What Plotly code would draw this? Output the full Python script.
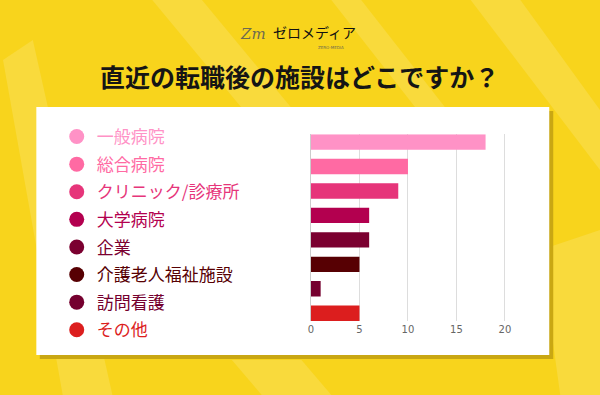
import plotly.graph_objects as go

categories = ["一般病院", "総合病院", "クリニック/診療所", "大学病院", "企業", "介護老人福祉施設", "訪問看護", "その他"]
values = [18, 10, 9, 6, 6, 5, 1, 5]
colors = ["#FF92C6", "#FF6AA3", "#E6357A", "#B3004F", "#7B0030", "#570003", "#75002F", "#DC1E1E"]
x_ticks = [0, 5, 10, 15, 20]
title_text = "直近の転職後の施設はどこですか？"

W, H = 600, 395
def px(x):
    return x / W
def py(y):
    return 1 - y / H

FONT = "Noto Sans CJK JP"
fig = go.Figure()

for i, (c, v, col) in enumerate(zip(categories, values, colors)):
    fig.add_trace(go.Bar(
        x=[v], y=[c], orientation="h", marker=dict(color=col, line=dict(width=0)),
        showlegend=False, hoverinfo="x+y", width=0.63,
    ))
for i, (c, col) in enumerate(zip(categories, colors)):
    fig.add_trace(go.Scatter(
        x=[None], y=[None], mode="markers",
        marker=dict(color=col, size=15, symbol="circle"),
        name=f"<span style='color:{col}'>{c}</span>",
        legendgroup=f"g{i}", showlegend=True,
    ))

shapes = []
streaks = [
    [(150, 0), (200, 0), (300, 120), (250, 120)],
    [(330, 0), (360, 0), (470, 140), (440, 140)],
    [(470, 0), (520, 0), (600, 110), (600, 170)],
    [(0, 60), (30, 40), (110, 395), (60, 395)],
    [(540, 250), (600, 230), (600, 395), (560, 395)],
    [(230, 360), (300, 360), (330, 395), (260, 395)],
]
for pts in streaks:
    path = "M " + " L ".join(f"{px(x)},{py(y)}" for x, y in pts) + " Z"
    shapes.append(dict(type="path", xref="paper", yref="paper", path=path,
                       fillcolor="rgba(255,255,255,0.14)", line=dict(width=0), layer="below"))
shapes.append(dict(type="rect", xref="paper", yref="paper",
                   x0=px(37), x1=px(553), y0=py(359), y1=py(111),
                   fillcolor="#C9A713", line=dict(width=0), layer="below"))
shapes.append(dict(type="rect", xref="paper", yref="paper",
                   x0=px(33.5), x1=px(549), y0=py(355), y1=py(107),
                   fillcolor="#FFFFFF", line=dict(width=0), layer="below"))

annotations = [
    dict(text="<b>" + title_text + "</b>", x=px(298), y=py(76), xref="paper", yref="paper",
         showarrow=False, font=dict(family=FONT, size=25, color="#151515"), xanchor="center", yanchor="middle"),
    dict(text="<i>Zm</i>", x=px(251), y=py(34), xref="paper", yref="paper",
         showarrow=False, font=dict(family="DejaVu Serif", size=15, color="#6E6A50"), xanchor="center", yanchor="middle"),
    dict(text="ゼロメディア", x=px(313), y=py(32), xref="paper", yref="paper",
         showarrow=False, font=dict(family=FONT, size=14, color="#111111"), xanchor="center", yanchor="middle"),
    dict(text="ZERO-MEDIA", x=px(330), y=py(48), xref="paper", yref="paper",
         showarrow=False, font=dict(family="DejaVu Sans", size=4, color="#6E6A50"), xanchor="center", yanchor="middle"),
]

fig.update_layout(
    width=W, height=H, margin=dict(l=0, r=0, t=0, b=0),
    paper_bgcolor="#F8D41C", plot_bgcolor="rgba(0,0,0,0)",
    shapes=shapes, annotations=annotations,
    barmode="overlay",
    font=dict(family=FONT),
    xaxis=dict(domain=[px(309.5), px(524)], range=[0, 22], tickvals=x_ticks,
               showgrid=True, gridcolor="#DDDDDD", gridwidth=1, zeroline=True,
               zerolinecolor="#CCCCCC", zerolinewidth=1, showline=False,
               tickfont=dict(family="DejaVu Sans", size=10, color="#666666"), ticks="", ticklabelstandoff=1),
    yaxis=dict(domain=[py(321), py(134.3)], categoryorder="array", categoryarray=categories,
               range=[7.315, -0.315], showticklabels=False, showgrid=False, zeroline=False, showline=False, ticks=""),
    legend=dict(x=px(54), y=py(119), xanchor="left", yanchor="top", bgcolor="rgba(0,0,0,0)",
                font=dict(family=FONT, size=17), tracegroupgap=2.5, itemsizing="trace"),
)

fig.write_html("out.html", config={"displayModeBar": False},
               post_script="document.body.style.margin='0';document.body.style.padding='0';")
